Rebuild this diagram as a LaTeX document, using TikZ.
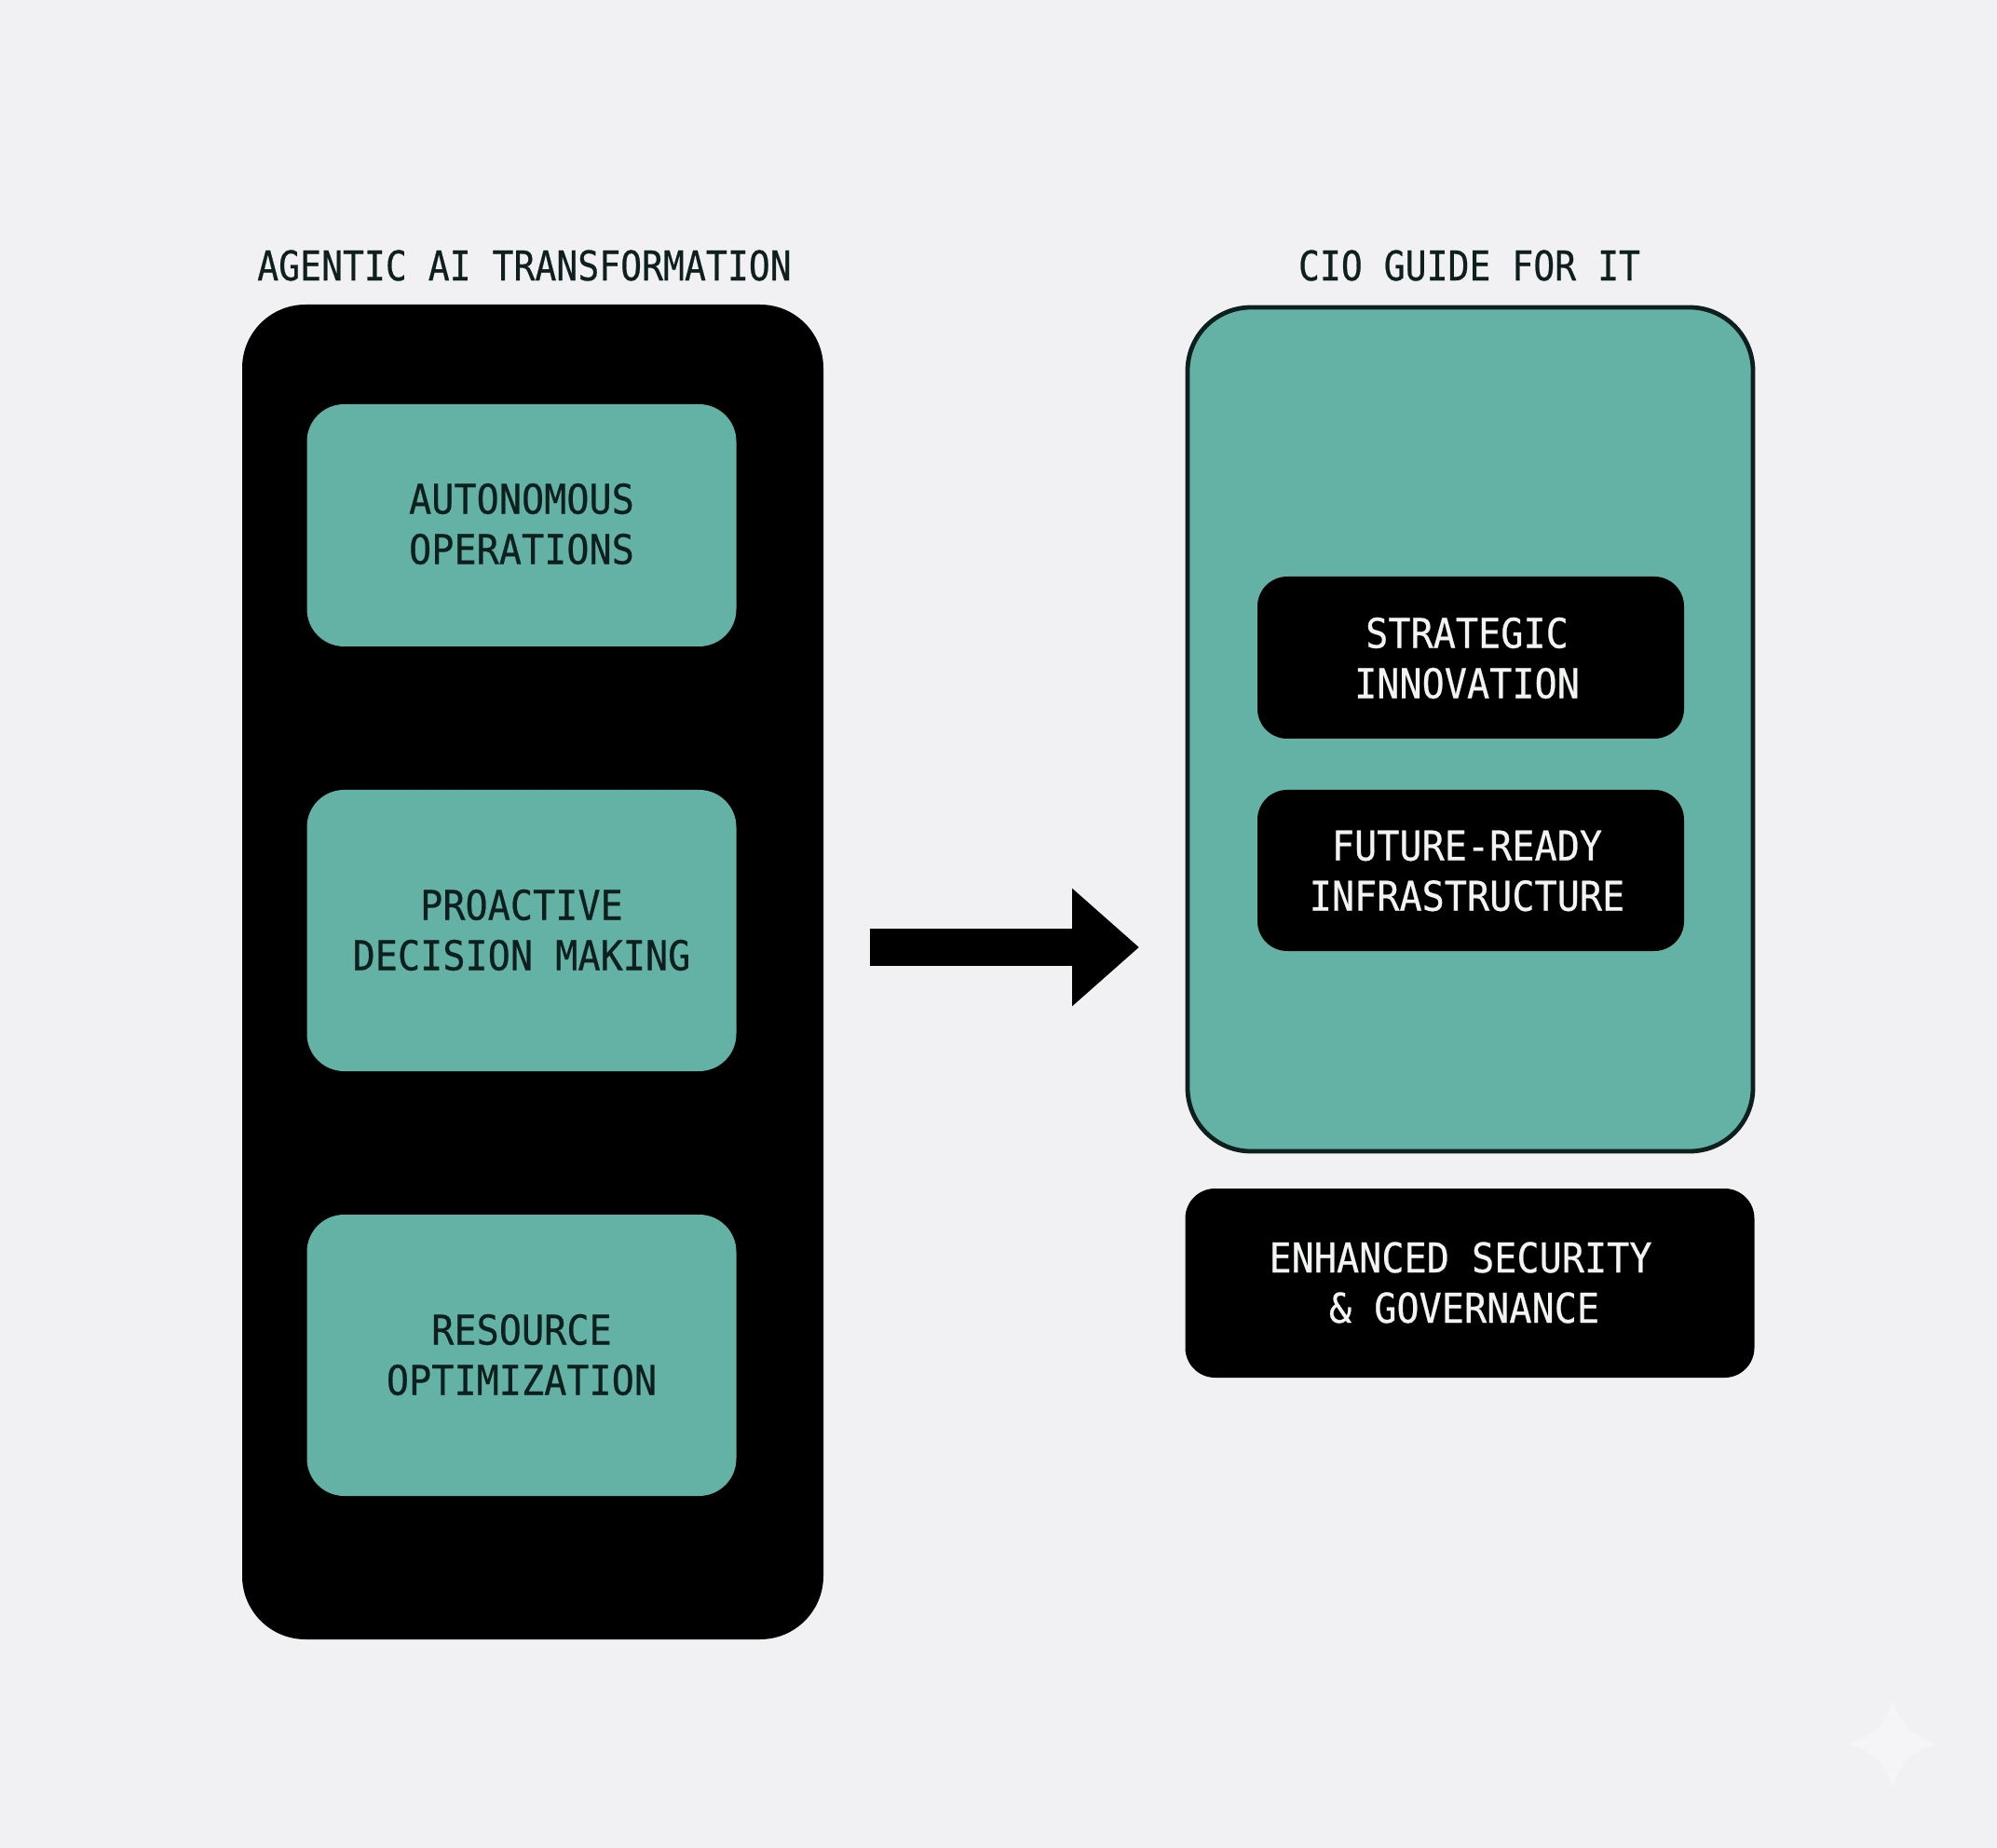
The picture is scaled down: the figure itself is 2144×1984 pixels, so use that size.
\documentclass[tikz,border=0pt]{standalone}
\usepackage{fontspec}
\usetikzlibrary{arrows.meta}
\newfontfamily\boxfont[FakeStretch=0.913,FakeBold=0.5]{DejaVu Sans Mono}
\newfontfamily\titlefont[FakeStretch=0.866,FakeBold=0.5]{DejaVu Sans Mono}
\definecolor{pagebg}{HTML}{F1F1F4}
\definecolor{tealfill}{HTML}{64B2A6}
\definecolor{inkdark}{HTML}{0E1F1E}
\definecolor{inklight}{HTML}{F2F4F2}
\definecolor{starfill}{HTML}{F5F5F7}
\tikzset{
  x=0.5pt,y=-0.5pt,
  panelblack/.style={fill=black,draw=none,rounded corners=34pt,inner sep=0pt,outer sep=0pt},
  panelteal/.style={fill=tealfill,draw=inkdark,line width=2.4pt,rounded corners=34pt,inner sep=0pt,outer sep=0pt},
  tealbox/.style={fill=tealfill,draw=none,rounded corners=20pt,inner sep=0pt,outer sep=0pt,minimum width=230.5pt},
  blackbox/.style={fill=black,draw=none,rounded corners=16pt,inner sep=0pt,outer sep=0pt},
  darktext/.style={text=inkdark,font=\boxfont\fontsize{22pt}{27pt}\selectfont,align=center,inner sep=0pt},
  lighttext/.style={text=inklight,font=\boxfont\fontsize{22pt}{27pt}\selectfont,align=center,inner sep=0pt},
  titletext/.style={text=inkdark,font=\titlefont\fontsize{22pt}{27pt}\selectfont,inner sep=0pt},
  bigarrow/.style={draw=black,line width=20pt,-{Triangle[length=36pt,width=61pt]}}
}
\begin{document}
\begin{tikzpicture}
\fill[pagebg] (0,0) rectangle (2144,1984);
\useasboundingbox (0,0) rectangle (2144,1984);
% faint sparkle, lower right
\fill[starfill] (2032,1823) .. controls (2040,1852) and (2052,1864) .. (2081,1872)
  .. controls (2052,1880) and (2040,1892) .. (2032,1921)
  .. controls (2024,1892) and (2012,1880) .. (1983,1872)
  .. controls (2012,1864) and (2024,1852) .. (2032,1823) -- cycle;
% left panel
\node[panelblack,minimum width=312pt,minimum height=716.5pt] (leftpanel) at (572,1043.5) {};
\node[tealbox,minimum height=130pt] (autobox) at (560,564) {};
\node[tealbox,minimum height=151pt] (proabox) at (560,999) {};
\node[tealbox,minimum height=151pt] (resbox) at (560,1455) {};
\node[darktext] (autotext) at (560,562.5) {AUTONOMOUS\\OPERATIONS};
\node[darktext] (protext) at (560,998.5) {PROACTIVE\\DECISION MAKING};
\node[darktext] (restext) at (560,1454.5) {RESOURCE\\OPTIMIZATION};
\node[titletext] (lefttitle) at (563,285) {AGENTIC AI TRANSFORMATION};
% right panel
\node[panelteal,minimum width=303.5pt,minimum height=453pt] (rightpanel) at (1578.5,783) {};
\node[blackbox,minimum width=229pt,minimum height=87pt] (stratbox) at (1579,706) {};
\node[blackbox,minimum width=229pt,minimum height=86.5pt] (futbox) at (1579,934.5) {};
\node[blackbox,minimum width=305.5pt,minimum height=101.5pt] (secbox) at (1578,1377.5) {};
\node[lighttext] (strattext) at (1575,706.5) {STRATEGIC\\INNOVATION};
\node[lighttext] (futtext) at (1575,935) {FUTURE-READY\\INFRASTRUCTURE};
\node[lighttext] (sectext) at (1568,1377) {ENHANCED SECURITY\\\hspace*{4pt}\& GOVERNANCE};
\node[titletext] (righttitle) at (1577.5,285) {CIO GUIDE FOR IT};
% arrow
\coordinate (arrowstart) at (934,1017);
\coordinate (arrowend) at (1223,1017);
\draw[bigarrow] (arrowstart) -- (arrowend);
\end{tikzpicture}
\end{document}
